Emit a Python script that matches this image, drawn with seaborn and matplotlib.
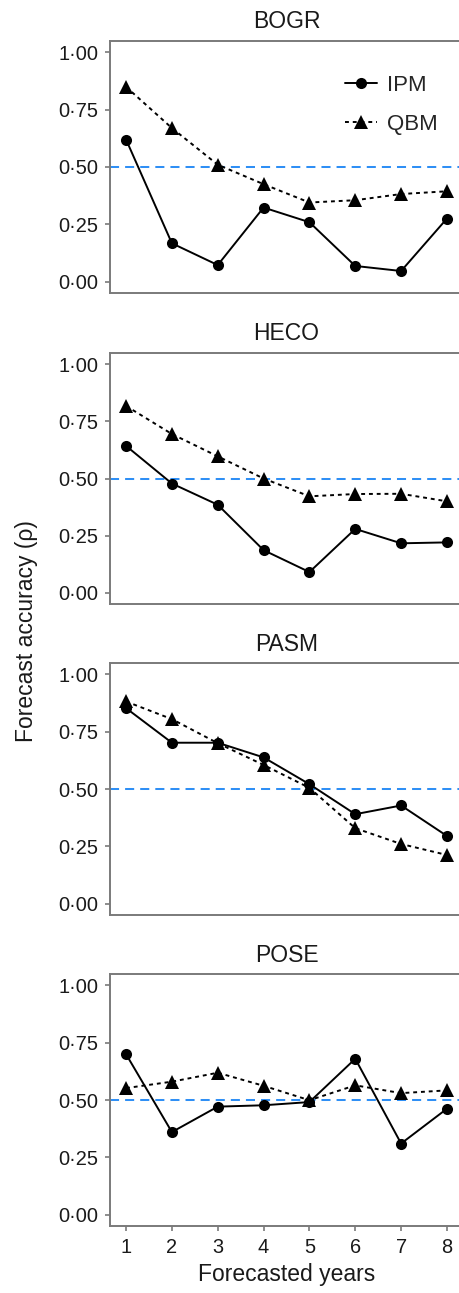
import numpy as np
import pandas as pd
import matplotlib
matplotlib.use("Agg")
import matplotlib.pyplot as plt
import seaborn as sns

# forecast accuracy per species, forecast horizon 1..8
years = [1, 2, 3, 4, 5, 6, 7, 8]
species = ["BOGR", "HECO", "PASM", "POSE"]
models = ["IPM", "QBM"]

bogr_ipm = [0.62, 0.167, 0.072, 0.323, 0.259, 0.068, 0.046, 0.275]
bogr_qbm = [0.85, 0.67, 0.51, 0.425, 0.345, 0.355, 0.382, 0.394]
heco_ipm = [0.643, 0.478, 0.385, 0.186, 0.09, 0.279, 0.216, 0.22]
heco_qbm = [0.818, 0.695, 0.597, 0.50, 0.422, 0.432, 0.433, 0.40]
pasm_ipm = [0.853, 0.702, 0.702, 0.638, 0.521, 0.39, 0.428, 0.295]
pasm_qbm = [0.882, 0.805, 0.70, 0.605, 0.505, 0.329, 0.26, 0.212]
pose_ipm = [0.70, 0.36, 0.471, 0.477, 0.491, 0.68, 0.31, 0.462]
pose_qbm = [0.552, 0.58, 0.619, 0.562, 0.499, 0.564, 0.53, 0.542]

values = {
    "BOGR": (bogr_ipm, bogr_qbm),
    "HECO": (heco_ipm, heco_qbm),
    "PASM": (pasm_ipm, pasm_qbm),
    "POSE": (pose_ipm, pose_qbm),
}

rows = []
for sp in species:
    for m, vals in zip(models, values[sp]):
        for yr, v in zip(years, vals):
            rows.append((sp, m, yr, v))
df = pd.DataFrame(rows, columns=["species", "model", "year", "rho"])

sns.set_theme(style="white")
plt.rcParams["font.family"] = ["Liberation Sans", "DejaVu Sans"]

W, H = 460, 1293
fig = plt.figure(figsize=(W / 100, H / 100), dpi=100)

frame_col = "#7a7a7a"
# panel top / bottom in pixels
panels = [(41, 293), (353, 604), (663, 915), (974, 1226)]
left_px, right_px = 110, 463

yticks = [0, 0.25, 0.5, 0.75, 1.0]
axes = []
for i, (sp, (top, bot)) in enumerate(zip(species, panels)):
    ax = fig.add_axes([left_px / W, 1 - bot / H, (right_px - left_px) / W, (bot - top) / H])
    axes.append(ax)
    ax.axhline(0.5, color="#2f8ff5", lw=1.45, dashes=(4.5, 3), zorder=1)
    sub = df[df["species"] == sp]
    sns.lineplot(data=sub, x="year", y="rho", style="model",
                 markers={"IPM": "o", "QBM": "^"},
                 dashes={"IPM": "", "QBM": (2, 2)},
                 color="black", linewidth=1.4, markersize=8,
                 markeredgewidth=0, ax=ax, zorder=3,
                 legend=(i == 0))
    for ln in ax.lines:
        if ln.get_marker() == "^":
            ln.set_markersize(10)
    ax.set_xlim(0.65, 8.35)
    ax.set_ylim(-0.05, 1.05)
    ax.set_yticks(yticks)
    ax.set_yticklabels([f"{v:.2f}".replace(".", "\u00b7") for v in yticks])
    ax.set_xticks(years)
    ax.set_title(sp, fontsize=16.5, pad=9, color="#1a1a1a")
    ax.set_xlabel("")
    ax.set_ylabel("")
    for s in ax.spines.values():
        s.set_visible(True)
        s.set_color(frame_col)
        s.set_linewidth(1.4)
    ax.tick_params(axis="both", which="both", direction="out", length=3.6,
                   width=1.2, color=frame_col, labelsize=14.4,
                   labelcolor="#1a1a1a", pad=5, left=True, bottom=True)
    if i < 3:
        ax.tick_params(axis="x", bottom=False, labelbottom=False)
    if i == 0:
        h, l = ax.get_legend_handles_labels()
        leg = ax.legend(h, l, frameon=False, loc="center left",
                        bbox_to_anchor=(0.665, 0.746), borderpad=0,
                        borderaxespad=0, fontsize=16, handlelength=1.45,
                        handletextpad=0.45, labelspacing=0.8)
        for lh in leg.get_lines():
            if lh.get_marker() == "^":
                lh.set_markersize(10)

axes[-1].set_xlabel("Forecasted years", fontsize=16.5, labelpad=4, color="#1a1a1a")
fig.text(27 / W, 1 - 631 / H, "Forecast accuracy (\u03c1)", rotation=90,
         ha="center", va="center", fontsize=16.5, color="#1a1a1a")

fig.savefig("out.png", dpi=100)
